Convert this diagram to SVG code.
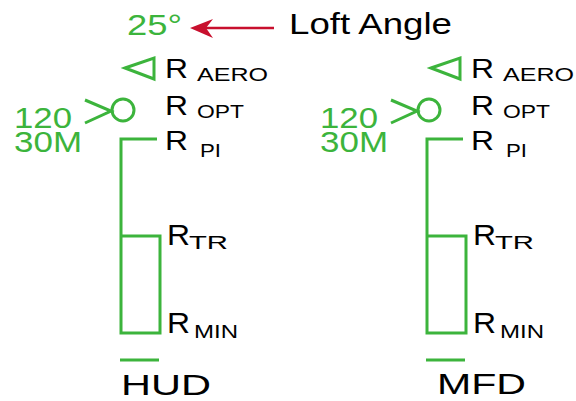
<svg xmlns="http://www.w3.org/2000/svg" width="576" height="401" viewBox="0 0 576 401">
<defs>
<style>
.g{fill:none;stroke:#3cb43c;stroke-width:3}
.gt{fill:#3cb43c;font-family:"Liberation Sans",Arial,sans-serif}
.t{fill:#000;font-family:"Liberation Sans",Arial,sans-serif}
.R{font-size:28px}
.s{font-size:18px}
</style>
<g id="panel">
<polygon class="g" points="125,68 154,58 154,79"/>
<circle class="g" cx="123" cy="110" r="11"/>
<polyline class="g" points="85,100 111,111 85,123"/>
<polyline class="g" points="157,139 121,139 121,333 160,333 160,236 120,236"/>
<line class="g" x1="120" y1="360" x2="159" y2="360"/>
<text class="gt" x="14" y="128" font-size="29" textLength="58" lengthAdjust="spacingAndGlyphs">120</text>
<text class="gt" x="14" y="152" font-size="29" textLength="68" lengthAdjust="spacingAndGlyphs">30M</text>
<text class="t R" x="165" y="78" textLength="23" lengthAdjust="spacingAndGlyphs">R</text>
<text class="t s" x="197" y="81" textLength="71" lengthAdjust="spacingAndGlyphs">AERO</text>
<text class="t R" x="165" y="115" textLength="23" lengthAdjust="spacingAndGlyphs">R</text>
<text class="t s" x="197" y="118" textLength="47" lengthAdjust="spacingAndGlyphs">OPT</text>
<text class="t R" x="165" y="150" textLength="23" lengthAdjust="spacingAndGlyphs">R</text>
<text class="t s" x="200" y="157" textLength="21" lengthAdjust="spacingAndGlyphs">PI</text>
<text class="t" x="167" y="245" font-size="29" textLength="23" lengthAdjust="spacingAndGlyphs">R</text>
<text class="t" x="189" y="249" font-size="19" textLength="39" lengthAdjust="spacingAndGlyphs">TR</text>
<text class="t" x="167" y="333" font-size="29" textLength="23" lengthAdjust="spacingAndGlyphs">R</text>
<text class="t" x="194" y="338" font-size="19" textLength="44" lengthAdjust="spacingAndGlyphs">MIN</text>
</g>
</defs>
<g id="title">
<text class="gt" x="127" y="35" font-size="30" textLength="55" lengthAdjust="spacingAndGlyphs">25°</text>
<text class="t" x="289" y="34" font-size="29" textLength="163" lengthAdjust="spacingAndGlyphs">Loft Angle</text>
</g>
<g id="connectors">
<line x1="274" y1="28" x2="205" y2="28" stroke="#c8102e" stroke-width="2.5"/>
<polygon points="190,28 213,19 206,28 213,38" fill="#c8102e"/>
</g>
<g id="hud">
<use href="#panel"/>
<text class="t" x="121" y="395" font-size="30" textLength="90" lengthAdjust="spacingAndGlyphs">HUD</text>
</g>
<g id="mfd">
<use href="#panel" transform="translate(306,0)"/>
<text class="t" x="437" y="394" font-size="30" textLength="89" lengthAdjust="spacingAndGlyphs">MFD</text>
</g>
</svg>
